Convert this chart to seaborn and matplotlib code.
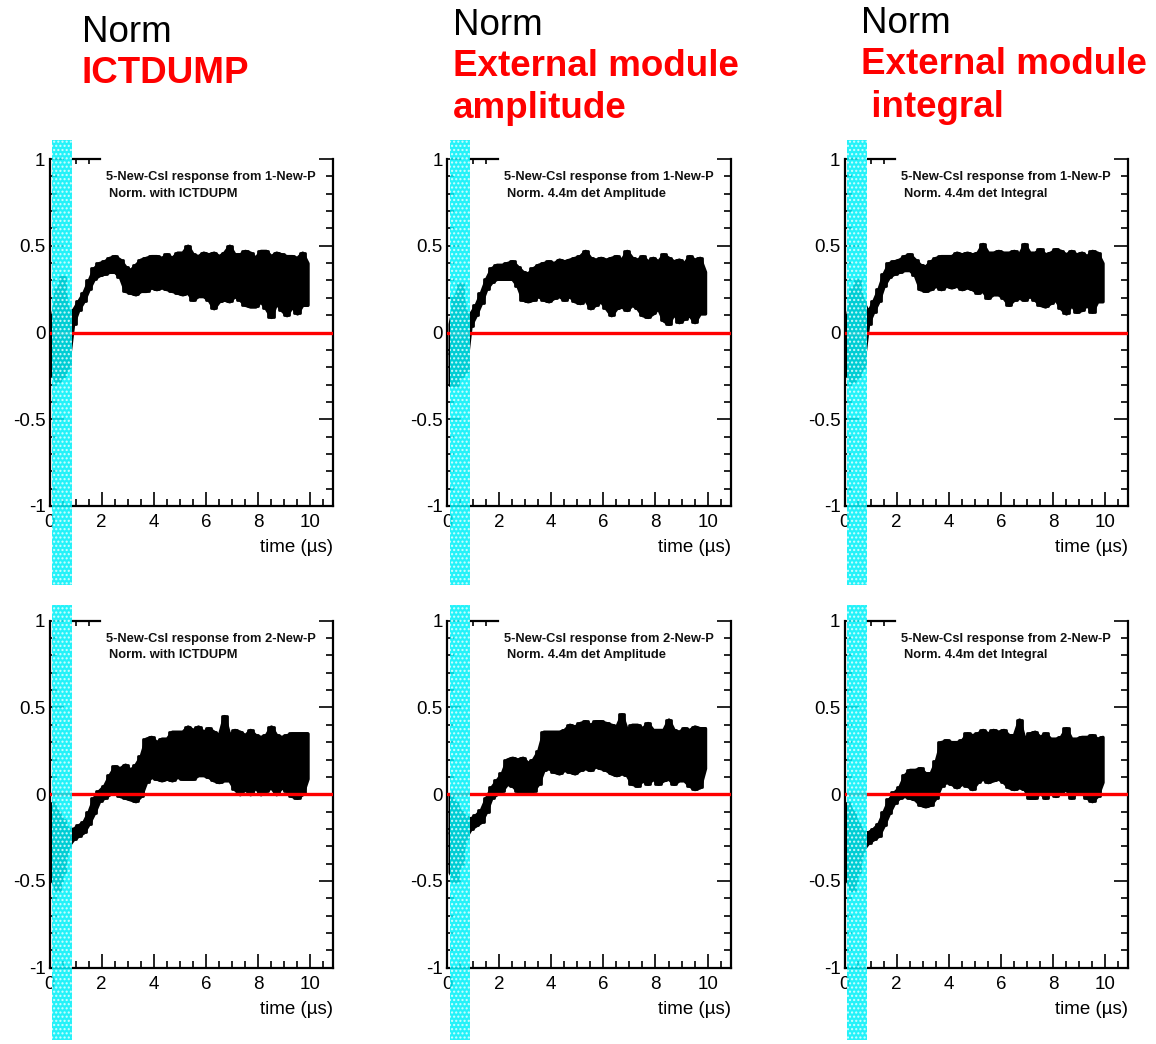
import numpy as np
import pandas as pd
import matplotlib
matplotlib.use("Agg")
import matplotlib.pyplot as plt
from matplotlib.patches import Rectangle
from matplotlib.ticker import MultipleLocator
import seaborn as sns

sns.set_theme(style="white")
plt.rcParams["font.family"] = ["Liberation Sans", "DejaVu Sans"]
plt.rcParams["hatch.linewidth"] = 1.0

# sample times (µs), bin centres
TIME = [0.1, 0.3, 0.5, 0.7, 0.9, 1.1, 1.3, 1.5, 1.7, 1.9,
        2.1, 2.3, 2.5, 2.7, 2.9, 3.1, 3.3, 3.5, 3.7, 3.9,
        4.1, 4.3, 4.5, 4.7, 4.9, 5.1, 5.3, 5.5, 5.7, 5.9,
        6.1, 6.3, 6.5, 6.7, 6.9, 7.1, 7.3, 7.5, 7.7, 7.9,
        8.1, 8.3, 8.5, 8.7, 8.9, 9.1, 9.3, 9.5, 9.7, 9.9]

# upper / lower envelope of the normalised CsI response, per panel
P1_ICT_HI = [0.10, 0.25, 0.32, 0.12, 0.13, 0.18, 0.23, 0.30, 0.37, 0.40,
             0.41, 0.43, 0.44, 0.42, 0.38, 0.36, 0.39, 0.42,
             0.43, 0.44, 0.44, 0.43, 0.45, 0.43, 0.46, 0.46, 0.50, 0.45,
             0.44, 0.46, 0.45, 0.46, 0.44, 0.46, 0.50, 0.45, 0.45, 0.47,
             0.46, 0.43, 0.47, 0.47, 0.44, 0.46, 0.45, 0.44, 0.44, 0.43,
             0.46, 0.40]
P1_ICT_LO = [-0.25, -0.28, -0.25, -0.20, 0.05, 0.13, 0.18, 0.25, 0.31, 0.33,
             0.34, 0.35, 0.35, 0.32, 0.24, 0.23, 0.22, 0.24,
             0.24, 0.26, 0.25, 0.26, 0.25, 0.24, 0.23, 0.22, 0.23, 0.19,
             0.21, 0.21, 0.19, 0.14, 0.18, 0.19, 0.18, 0.21, 0.19, 0.16,
             0.15, 0.15, 0.18, 0.14, 0.09, 0.17, 0.13, 0.10, 0.15, 0.11,
             0.16, 0.16]

P1_AMP_HI = [0.05, 0.20, 0.28, 0.12, 0.11, 0.16, 0.23, 0.31, 0.37, 0.39,
             0.39, 0.40, 0.41, 0.38, 0.35, 0.34, 0.37, 0.39,
             0.40, 0.41, 0.40, 0.42, 0.41, 0.42, 0.43, 0.44, 0.47, 0.43,
             0.42, 0.43, 0.42, 0.43, 0.44, 0.42, 0.47, 0.43, 0.42, 0.44,
             0.41, 0.43, 0.41, 0.45, 0.43, 0.41, 0.42, 0.40, 0.44, 0.42,
             0.43, 0.35]
P1_AMP_LO = [-0.30, -0.30, -0.25, -0.22, 0.04, 0.10, 0.17, 0.25, 0.29, 0.31,
             0.31, 0.31, 0.31, 0.27, 0.19, 0.18, 0.19, 0.21,
             0.19, 0.18, 0.20, 0.21, 0.19, 0.21, 0.18, 0.17, 0.19, 0.14,
             0.16, 0.18, 0.14, 0.10, 0.14, 0.15, 0.13, 0.16, 0.14, 0.10,
             0.09, 0.11, 0.14, 0.07, 0.05, 0.11, 0.06, 0.08, 0.10, 0.06,
             0.11, 0.11]

P1_INT_HI = [0.10, 0.25, 0.30, 0.18, 0.12, 0.18, 0.25, 0.34, 0.40, 0.41,
             0.42, 0.44, 0.45, 0.42, 0.39, 0.38, 0.41, 0.43,
             0.44, 0.44, 0.44, 0.46, 0.45, 0.46, 0.45, 0.46, 0.51, 0.46,
             0.46, 0.47, 0.46, 0.46, 0.47, 0.45, 0.51, 0.46, 0.46, 0.48,
             0.45, 0.46, 0.48, 0.47, 0.45, 0.47, 0.45, 0.46, 0.44, 0.47,
             0.46, 0.40]
P1_INT_LO = [-0.25, -0.28, -0.25, -0.20, 0.05, 0.12, 0.18, 0.27, 0.32, 0.34,
             0.35, 0.36, 0.36, 0.33, 0.25, 0.24, 0.25, 0.27,
             0.25, 0.27, 0.26, 0.27, 0.25, 0.26, 0.25, 0.23, 0.24, 0.20,
             0.22, 0.22, 0.20, 0.16, 0.19, 0.20, 0.19, 0.21, 0.19, 0.16,
             0.15, 0.17, 0.19, 0.14, 0.11, 0.16, 0.12, 0.13, 0.16, 0.12,
             0.18, 0.18]

P2_ICT_HI = [-0.05, -0.10, -0.15, -0.20, -0.20, -0.18, -0.16, -0.10, -0.02, 0.02,
             0.05, 0.11, 0.16, 0.15, 0.17, 0.14, 0.17, 0.22,
             0.32, 0.33, 0.30, 0.32, 0.32, 0.36, 0.36, 0.36, 0.39, 0.37,
             0.39, 0.36, 0.38, 0.36, 0.34, 0.45, 0.34, 0.37, 0.36, 0.34,
             0.37, 0.34, 0.33, 0.34, 0.39, 0.34, 0.33, 0.34, 0.35, 0.35,
             0.35, 0.35]
P2_ICT_LO = [-0.50, -0.55, -0.45, -0.30, -0.26, -0.24, -0.22, -0.17, -0.11, -0.04,
             -0.02, 0.00, 0.02, -0.01, -0.02, -0.03, -0.04, -0.01,
             0.07, 0.10, 0.09, 0.08, 0.09, 0.08, 0.10, 0.09, 0.09, 0.09,
             0.11, 0.11, 0.10, 0.08, 0.07, 0.08, 0.08, 0.03, 0.00, 0.03,
             0.00, 0.04, 0.00, 0.02, 0.04, 0.00, 0.04, 0.02, -0.01, -0.02,
             0.00, 0.09]

P2_AMP_HI = [0.00, -0.05, -0.10, -0.13, -0.14, -0.12, -0.09, -0.02, 0.04, 0.08,
             0.12, 0.20, 0.21, 0.20, 0.21, 0.18, 0.20, 0.25,
             0.36, 0.36, 0.36, 0.36, 0.37, 0.40, 0.39, 0.41, 0.42, 0.40,
             0.42, 0.42, 0.41, 0.40, 0.39, 0.46, 0.37, 0.40, 0.40, 0.38,
             0.41, 0.37, 0.37, 0.37, 0.43, 0.37, 0.36, 0.38, 0.37, 0.39,
             0.38, 0.38]
P2_AMP_LO = [-0.45, -0.50, -0.40, -0.25, -0.20, -0.18, -0.16, -0.10, -0.02, 0.00,
             0.02, 0.06, 0.05, 0.02, 0.01, 0.01, 0.02, 0.06,
             0.14, 0.15, 0.13, 0.12, 0.14, 0.13, 0.12, 0.14, 0.15, 0.14,
             0.16, 0.15, 0.14, 0.12, 0.11, 0.12, 0.11, 0.06, 0.05, 0.08,
             0.06, 0.09, 0.06, 0.08, 0.09, 0.06, 0.08, 0.08, 0.05, 0.03,
             0.04, 0.15]

P2_INT_HI = [-0.05, -0.10, -0.17, -0.22, -0.22, -0.20, -0.17, -0.10, -0.03, 0.01,
             0.04, 0.11, 0.14, 0.14, 0.15, 0.12, 0.12, 0.19,
             0.30, 0.31, 0.30, 0.30, 0.31, 0.35, 0.34, 0.35, 0.37, 0.35,
             0.37, 0.36, 0.37, 0.34, 0.34, 0.43, 0.32, 0.35, 0.36, 0.33,
             0.35, 0.32, 0.32, 0.33, 0.38, 0.32, 0.32, 0.33, 0.33, 0.34,
             0.32, 0.33]
P2_INT_LO = [-0.50, -0.55, -0.45, -0.32, -0.28, -0.26, -0.24, -0.18, -0.11, -0.05,
             -0.02, -0.01, -0.02, -0.03, -0.06, -0.07, -0.06, -0.02,
             0.05, 0.07, 0.06, 0.04, 0.06, 0.05, 0.03, 0.07, 0.09, 0.07,
             0.08, 0.09, 0.07, 0.04, 0.03, 0.04, 0.03, -0.02, -0.02, 0.01,
             -0.02, 0.02, -0.01, 0.01, 0.03, -0.02, 0.01, 0.01, -0.02, -0.04,
             -0.01, 0.07]

COLUMN_HEADERS = [["Norm", "ICTDUMP"],
                  ["Norm", "External module", "amplitude"],
                  ["Norm", "External module", " integral"]]
NORM_LABELS = ["Norm. with ICTDUPM", "Norm. 4.4m det Amplitude", "Norm. 4.4m det Integral"]
SOURCE_LABELS = ["5-New-CsI response from 1-New-P", "5-New-CsI response from 2-New-P"]

PANELS = [[(P1_ICT_HI, P1_ICT_LO), (P1_AMP_HI, P1_AMP_LO), (P1_INT_HI, P1_INT_LO)],
          [(P2_ICT_HI, P2_ICT_LO), (P2_AMP_HI, P2_AMP_LO), (P2_INT_HI, P2_INT_LO)]]

W, H = 1156, 1044
fig = plt.figure(figsize=(W / 100, H / 100), dpi=100)
fig.patch.set_facecolor("white")

XMAX = 10.88
col_step = 397.5
row_tops = [159.0, 620.7]
band_rows = [(140, 585), (605, 1040)]
ax_w, ax_h = 283.4, 347.0

for r in range(2):
    for c in range(3):
        left = 49.6 + c * col_step
        ax = fig.add_axes([left / W, 1 - (row_tops[r] + ax_h) / H, ax_w / W, ax_h / H])
        ax.set_facecolor("white")
        hi, lo = PANELS[r][c]
        df = pd.DataFrame({"time": TIME + TIME, "value": hi + lo})
        # min/max envelope of the trace (linear band) plus its mean line
        sns.lineplot(data=df, x="time", y="value", estimator="mean",
                     errorbar=("pi", 100), color="black", lw=2.0,
                     err_kws=dict(alpha=1.0, linewidth=2.5,
                                  edgecolor="black", facecolor="black"),
                     ax=ax, zorder=2)
        # binned (stepped) envelope on top of it
        ax.fill_between(TIME, lo, hi, step="mid", facecolor="black",
                        edgecolor="black", linewidth=2.0, zorder=2)
        ax.axhline(0, color="#ff0000", lw=2.4, zorder=3)

        ax.set_xlim(0, XMAX)
        ax.set_ylim(-1, 1)
        ax.xaxis.set_minor_locator(MultipleLocator(0.5))
        ax.yaxis.set_minor_locator(MultipleLocator(0.1))
        ax.set_xticks([0, 2, 4, 6, 8, 10])
        ax.set_xticklabels(["0", "2", "4", "6", "8", "10"])
        ax.set_yticks([-1, -0.5, 0, 0.5, 1])
        ax.set_yticklabels(["-1", "-0.5", "0", "0.5", "1"])
        ax.tick_params(which="both", direction="in", left=True, right=True,
                       bottom=True, top=False, color="black", width=1.2,
                       labelsize=13.5, labelcolor="black")
        ax.tick_params(which="major", length=10)
        ax.tick_params(which="minor", length=5)
        ax.tick_params(axis="y", pad=3)
        ax.tick_params(axis="x", pad=6)
        for side in ["left", "right", "bottom", "top"]:
            ax.spines[side].set_color("black")
            ax.spines[side].set_linewidth(1.6)
        ax.spines["top"].set_bounds(0.86, 1.94)
        ax.vlines([1.0, 1.5], 0.97, 1.0, color="black", lw=1.2, clip_on=False)

        ax.set_xlabel("time (µs)", fontsize=13.5, color="black", ha="right", va="center")
        ax.xaxis.set_label_coords(1.0, -0.121)
        ax.set_ylabel("")

        ax.text(2.17, 0.896, SOURCE_LABELS[r], fontsize=9.3, fontweight="bold",
                color="#111111", va="center", ha="left")
        ax.text(2.29, 0.80, NORM_LABELS[c], fontsize=9.3, fontweight="bold",
                color="#111111", va="center", ha="left")

        # shaded early-time window
        b0, b1 = band_rows[r]
        bx = 52 + c * col_step
        band = Rectangle((bx / W, 1 - b1 / H), 20 / W, (b1 - b0) / H,
                         transform=fig.transFigure, facecolor="#00f0f8",
                         edgecolor="#e8ffff", linewidth=0, hatch="....",
                         alpha=0.86, zorder=10)
        fig.add_artist(band)

# column headers
header_x = [82, 453, 861]
header_base = [[41.7, 82.7], [35, 76, 118], [33, 74, 117]]
for c in range(3):
    for i, line in enumerate(COLUMN_HEADERS[c]):
        if i == 0:
            fig.text(header_x[c] / W, 1 - header_base[c][i] / H, line,
                     fontsize=26.5, color="black", ha="left", va="baseline")
        else:
            fig.text(header_x[c] / W, 1 - header_base[c][i] / H, line,
                     fontsize=26.5, color="#ff0000", fontweight="bold",
                     ha="left", va="baseline")

fig.savefig("out.png", dpi=100, facecolor="white")
